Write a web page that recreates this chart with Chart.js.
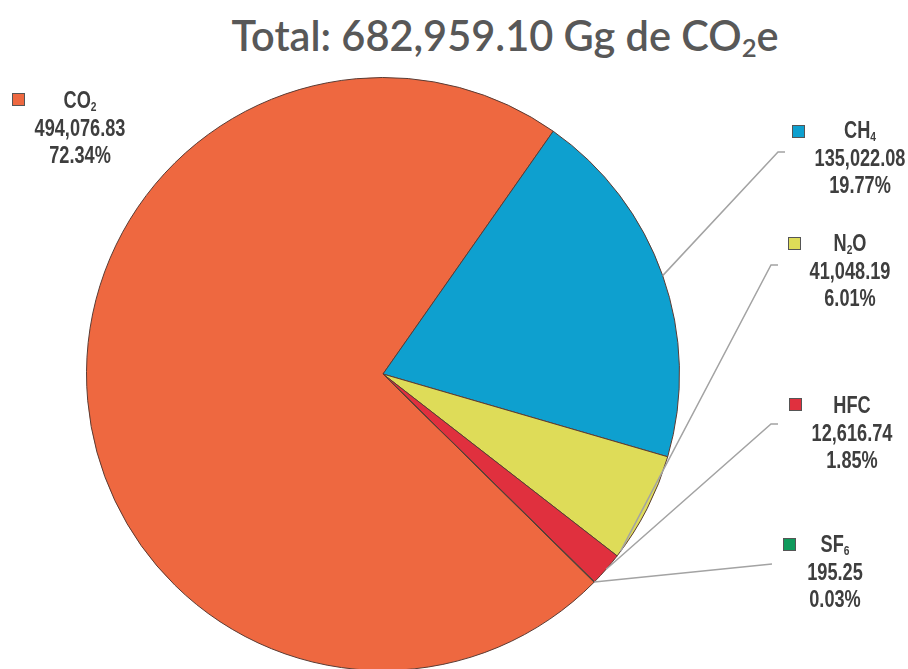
<!doctype html>
<html lang="es">
  <head>
    <meta charset="utf-8">
    <title>Total de emisiones GEI</title>
    <style>
      html, body { margin: 0; padding: 0; background: #fff; overflow: hidden; }
      .title {
        position: absolute; left: 0; top: 10px; width: 1010px; text-align: center;
        font-family: Lato, "Open Sans", sans-serif; font-weight: 600; font-size: 41.5px;
        color: #585858; white-space: nowrap;
      }
      .title sub { font-size: 62%; vertical-align: -0.25em; line-height: 0; }
      #myChart { position: absolute; left: 0; top: 0; }
    </style>
  </head>
  <body>
    <div class="title">Total: 682,959.10 Gg de CO<sub>2</sub>e</div>
    <canvas id="myChart" width="908" height="680"></canvas>
    <script src="https://cdn.jsdelivr.net/npm/chart.js"></script>
    <script>
      const categories = ['CO₂', 'CH₄', 'N₂O', 'HFC', 'SF₆'];
      const values = [494076.83, 135022.08, 41048.19, 12616.74, 195.25];
      const colors = ['#ee6840', '#0ea0cf', '#dedc58', '#e0303e', '#0f9a5c'];

      // where each label sits and where its leader line starts on the slice
      const labelPos = [
        { box: [12, 93], cx: 80, y: 102, elbow: null },
        { box: [792, 125], cx: 860, y: 132, elbow: [778, 152, 785] },
        { box: [788, 237], cx: 850, y: 245, elbow: [771, 265, 778] },
        { box: [789, 398], cx: 852, y: 407, elbow: [771, 424, 778] },
        { box: [783, 538], cx: 835, y: 546, elbow: [772, 564, 772] }
      ];
      const leaderFrac = [0.5, 0.5, 0.95, 0.5, 0.5];

      const total = values.reduce((a, b) => a + b, 0);
      const fmt = v => v.toLocaleString('en-US', { minimumFractionDigits: 2, maximumFractionDigits: 2 });

      const subMap = { '₀': '0', '₁': '1', '₂': '2', '₃': '3', '₄': '4', '₅': '5', '₆': '6', '₇': '7', '₈': '8', '₉': '9' };
      const labelFont = '"Liberation Sans", Arial, sans-serif';
      const fontSize = 23;
      const squeeze = 0.79;   // fake a condensed face

      // centred text, squeezed horizontally
      function drawText(ctx, text, cx, y) {
        ctx.save();
        ctx.translate(cx, y);
        ctx.scale(squeeze, 1);
        ctx.font = 'bold ' + fontSize + 'px ' + labelFont;
        ctx.textAlign = 'center';
        ctx.fillText(text, 0, 0);
        ctx.restore();
      }

      // draws a name like "N₂O" with real small subscripts, centred on cx
      function drawName(ctx, text, cx, y) {
        const parts = [...text].map(ch => subMap[ch] ? { t: subMap[ch], sub: true } : { t: ch, sub: false });
        const big = 'bold ' + fontSize + 'px ' + labelFont;
        const small = 'bold ' + Math.round(fontSize * 0.55) + 'px ' + labelFont;
        ctx.save();
        ctx.translate(cx, y);
        ctx.scale(squeeze, 1);
        let w = 0;
        parts.forEach(p => { ctx.font = p.sub ? small : big; p.w = ctx.measureText(p.t).width; w += p.w; });
        let x = -w / 2;
        ctx.textAlign = 'left';
        parts.forEach(p => {
          ctx.font = p.sub ? small : big;
          ctx.fillText(p.t, x, p.sub ? fontSize * 0.22 : 0);
          x += p.w;
        });
        ctx.restore();
      }

      const labelPlugin = {
        id: 'sideLabels',
        afterDraw(chart) {
          const ctx = chart.ctx;
          const arcs = chart.getDatasetMeta(0).data;
          ctx.save();
          // leader lines
          ctx.strokeStyle = '#a3a3a3';
          ctx.lineWidth = 1.5;
          arcs.forEach((arc, i) => {
            const pos = labelPos[i];
            if (!pos.elbow) return;
            const p = arc.getProps(['x', 'y', 'startAngle', 'endAngle', 'outerRadius'], true);
            const a = p.startAngle + leaderFrac[i] * (p.endAngle - p.startAngle);
            ctx.beginPath();
            ctx.moveTo(p.x + p.outerRadius * Math.cos(a), p.y + p.outerRadius * Math.sin(a));
            ctx.lineTo(pos.elbow[0], pos.elbow[1]);
            ctx.lineTo(pos.elbow[2], pos.elbow[1]);
            ctx.stroke();
          });
          // boxes and texts
          ctx.textBaseline = 'middle';
          categories.forEach((name, i) => {
            const pos = labelPos[i];
            ctx.fillStyle = colors[i];
            ctx.fillRect(pos.box[0], pos.box[1], 13, 13);
            ctx.strokeStyle = '#555';
            ctx.lineWidth = 1;
            ctx.strokeRect(pos.box[0] + 0.5, pos.box[1] + 0.5, 12, 12);
            ctx.fillStyle = '#3e3e3e';
            drawName(ctx, name, pos.cx, pos.y);
            drawText(ctx, fmt(values[i]), pos.cx, pos.y + 28);
            drawText(ctx, (values[i] / total * 100).toFixed(2) + '%', pos.cx, pos.y + 55);
          });
          ctx.restore();
        }
      };

      const data = {
        labels: categories,
        datasets: [{
          data: values,
          backgroundColor: colors,
          borderColor: '#5a3b33',
          borderWidth: 1
        }]
      };

      const config = {
        type: 'pie',
        data,
        options: {
          responsive: false,
          animation: false,
          rotation: 134.6,
          layout: { padding: { left: 86, right: 228, top: 77, bottom: 9 } },
          plugins: {
            legend: { display: false },
            tooltip: { enabled: false }
          },
          events: []
        },
        plugins: [labelPlugin]
      };

      const myChart = new Chart(document.getElementById('myChart'), config);
    </script>
  </body>
</html>
